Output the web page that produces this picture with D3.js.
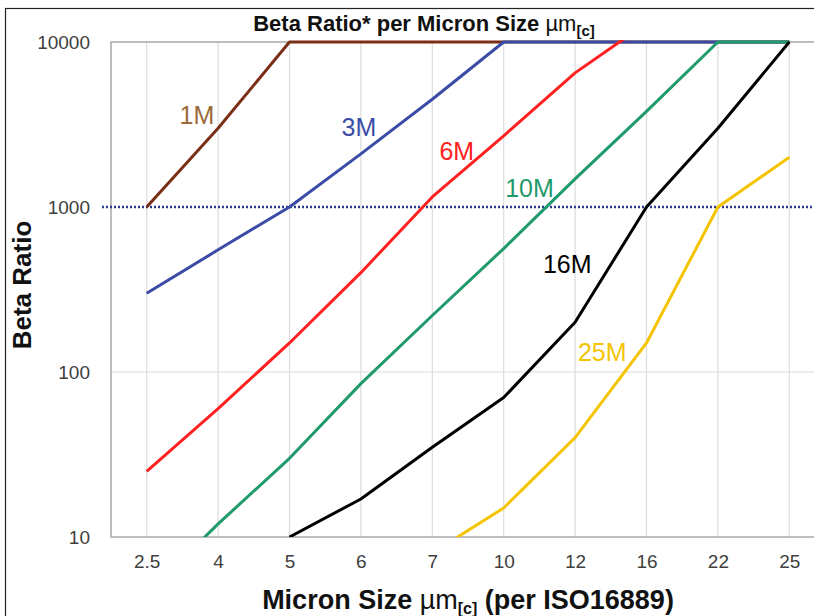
<!DOCTYPE html>
<html>
<head>
<meta charset="utf-8">
<script src="https://cdn.jsdelivr.net/npm/d3@7"></script>
<style>
  body { margin: 0; background: #fff; }
  svg { display: block; }
  text { font-family: "Liberation Sans", Arial, sans-serif; }
</style>
</head>
<body>
<div id="chart"></div>
<script>
// categories on the x axis (micron sizes)
const sizes = ['2.5', '4', '5', '6', '7', '10', '12', '16', '22', '25'];
const yTicks = [10, 100, 1000, 10000];

// beta ratio per size, one array per media (null = not on chart)
const m1  = [1000, 3000, 10000, 10000, 10000, 10000, 10000, 10000, 10000, 10000];
const m3  = [300, 550, 1000, 2100, 4500, 10000, 10000, 10000, 10000, 10000];
const m6  = [25, 60, 150, 400, 1150, 2700, 6500, 13000, null, null];
const m10 = [4.5, 12, 30, 85, 220, 560, 1480, 3800, 10000, 10000];
const m16 = [null, null, 10, 17, 35, 70, 200, 1000, 3000, 10000];
const m25 = [null, null, null, null, 8, 15, 40, 150, 1000, 2000];

const seriesNames = ['1M', '3M', '6M', '10M', '16M', '25M'];
const seriesValues = [m1, m3, m6, m10, m16, m25];
const lineColors = ['#7a2e16', '#3a4ca6', '#ff2020', '#1f9a6a', '#000000', '#f5c400'];
const labelColors = ['#9a6a3a', '#3a4ca6', '#ff2020', '#1f9a6a', '#000000', '#f5c400'];
// label anchor: [offset in category steps from the first size, value at baseline]
const labelAt = [[0.46, 3200], [2.73, 2700], [4.1, 1930], [5.02, 1150], [5.55, 400], [6.04, 116]];

const width = 814, height = 616;
const plot = { left: 111, right: 825, top: 42, bottom: 537 };

const svg = d3.select('#chart').append('svg')
    .attr('width', width)
    .attr('height', height);

// outer frame
svg.append('rect')
    .attr('x', 5.5).attr('y', 8.5)
    .attr('width', width + 10).attr('height', height + 10)
    .attr('fill', 'none').attr('stroke', '#222').attr('stroke-width', 1.2);

const x = d3.scalePoint().domain(sizes).range([plot.left, plot.right]).padding(0.5);
const y = d3.scaleLog().domain([10, 10000]).range([plot.bottom, plot.top]);

// grid lines
svg.append('g').selectAll('line')
    .data(sizes)
    .enter().append('line')
    .attr('x1', d => x(d)).attr('x2', d => x(d))
    .attr('y1', plot.top).attr('y2', plot.bottom)
    .attr('stroke', '#dcdcdc').attr('stroke-width', 1.2);

svg.append('g').selectAll('line')
    .data([100])
    .enter().append('line')
    .attr('x1', plot.left).attr('x2', plot.right)
    .attr('y1', d => y(d)).attr('y2', d => y(d))
    .attr('stroke', '#dcdcdc').attr('stroke-width', 1.2);

// plot border
svg.append('rect')
    .attr('x', plot.left).attr('y', plot.top)
    .attr('width', plot.right - plot.left).attr('height', plot.bottom - plot.top)
    .attr('fill', 'none').attr('stroke', '#a8a8a8').attr('stroke-width', 1.5);

// y axis labels
svg.append('g')
    .attr('transform', `translate(${plot.left - 18},0)`)
    .call(d3.axisLeft(y).tickValues(yTicks).tickFormat(d3.format('d')).tickSize(0))
    .call(g => g.select('.domain').remove())
    .call(g => g.selectAll('text')
        .attr('fill', '#404040')
        .style('font-size', '19px'));

// x axis labels
svg.append('g')
    .attr('transform', `translate(0,${plot.bottom + 11})`)
    .call(d3.axisBottom(x).tickSize(0))
    .call(g => g.select('.domain').remove())
    .call(g => g.selectAll('text')
        .attr('fill', '#404040')
        .attr('dy', '0.9em')
        .style('font-size', '19px'));

// 1000 reference line
svg.append('line')
    .attr('x1', 102).attr('x2', width)
    .attr('y1', y(1000)).attr('y2', y(1000))
    .attr('stroke', '#2b3a8c').attr('stroke-width', 2.4)
    .attr('stroke-dasharray', '2,2');

svg.append('clipPath').attr('id', 'clip')
    .append('rect')
    .attr('x', plot.left).attr('y', plot.top - 2)
    .attr('width', plot.right - plot.left).attr('height', plot.bottom - plot.top + 2);

const line = d3.line()
    .defined(d => d.v != null)
    .x(d => x(d.s))
    .y(d => y(d.v));

svg.append('g').attr('clip-path', 'url(#clip)')
    .selectAll('path')
    .data(seriesValues)
    .enter().append('path')
    .attr('d', vals => line(vals.map((v, i) => ({ s: sizes[i], v: v }))))
    .attr('fill', 'none')
    .attr('stroke', (d, i) => lineColors[i])
    .attr('stroke-width', 3)
    .attr('stroke-linejoin', 'round');

// series labels
const step = x.step();
svg.append('g').selectAll('text')
    .data(seriesNames)
    .enter().append('text')
    .attr('x', (d, i) => x(sizes[0]) + labelAt[i][0] * step)
    .attr('y', (d, i) => y(labelAt[i][1]))
    .attr('fill', (d, i) => labelColors[i])
    .style('font-size', '25px')
    .text(d => d);

// title
const title = svg.append('text')
    .attr('x', 424).attr('y', 31)
    .attr('text-anchor', 'middle')
    .style('font-size', '22px')
    .style('font-weight', 'bold')
    .attr('fill', '#111');
title.append('tspan').text('Beta Ratio* per Micron Size ');
title.append('tspan').style('font-weight', 'normal').text('\u00b5m');
title.append('tspan').attr('dy', 5).style('font-size', '15px').text('[c]');

// x axis title
const xt = svg.append('text')
    .attr('x', 468).attr('y', 609)
    .attr('text-anchor', 'middle')
    .style('font-size', '27px')
    .style('font-weight', 'bold')
    .attr('fill', '#111');
xt.append('tspan').text('Micron Size ');
xt.append('tspan').style('font-weight', 'normal').text('\u00b5m');
xt.append('tspan').attr('dy', 5).style('font-size', '16px').text('[c]');
xt.append('tspan').attr('dy', -5).text(' (per ISO16889)');

// y axis title
svg.append('text')
    .attr('transform', 'translate(31,285) rotate(-90)')
    .attr('text-anchor', 'middle')
    .style('font-size', '26px')
    .style('font-weight', 'bold')
    .attr('fill', '#111')
    .text('Beta Ratio');
</script>
</body>
</html>
